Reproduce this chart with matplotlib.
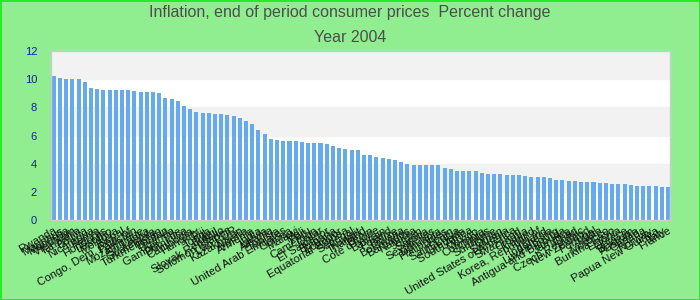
import numpy as np
import matplotlib.pyplot as plt

plt.rcParams['font.family'] = ['Liberation Sans', 'DejaVu Sans']

countries = [
    "Rwanda", "Mauritius", "Mongolia", "Viet Nam", "Tanzania", "Bolivia", "Nicaragua",
    "Kenya", "Honduras", "Lesotho", "Moldova", "Nepal", "Congo, Dem. Rep. of", "Pakistan",
    "Mozambique", "Sri Lanka", "Guatemala", "Turkmenistan", "Bhutan", "Uganda",
    "Gambia, The", "Dominica", "Cambodia", "Hungary", "Fiji", "Tonga", "Brazil",
    "Slovak Republic", "Solomon Islands", "Lao PDR", "Kazakhstan", "Algeria", "Armenia",
    "India", "Latvia", "Albania", "Tunisia", "United Arab Emirates", "Guinea", "Malawi",
    "Mali", "Peru", "Cameroon", "Qatar", "El Salvador", "Bulgaria", "Ecuador",
    "Equatorial Guinea", "Senegal", "Kuwait", "Thailand", "Benin", "Cote d'Ivoire",
    "Bahrain", "Poland", "Belize", "Botswana", "Barbados", "Namibia", "Jordan", "Samoa",
    "Seychelles", "Lithuania", "Philippines", "Spain", "Saint Lucia", "Grenada",
    "South Africa", "Mexico", "Colombia", "Cyprus", "Suriname", "Oman", "Slovenia",
    "United States of America", "Swaziland", "Croatia", "Iceland", "Korea, Republic of",
    "Ireland", "Indonesia", "Luxembourg", "Antigua and Barbuda", "Jamaica", "Chad",
    "Czech Republic", "New Zealand", "Portugal", "Malta", "Morocco", "Burkina Faso",
    "Estonia", "Greece", "Belgium", "Australia", "Canada", "Norway",
    "Papua New Guinea", "Italy", "France",
]

inflation = [
    10.24, 10.09, 10.0, 10.0, 10.0, 9.79, 9.36, 9.29, 9.22, 9.22,
    9.22, 9.22, 9.22, 9.15, 9.08, 9.08, 9.08, 9.01, 8.65, 8.58,
    8.44, 8.09, 7.87, 7.66, 7.59, 7.59, 7.52, 7.52, 7.45, 7.38,
    7.23, 7.02, 6.81, 6.38, 6.10, 5.74, 5.67, 5.60, 5.60, 5.60,
    5.53, 5.46, 5.46, 5.46, 5.39, 5.25, 5.11, 5.04, 4.96, 4.96,
    4.61, 4.61, 4.47, 4.40, 4.33, 4.26, 4.11, 3.97, 3.90, 3.90,
    3.90, 3.90, 3.90, 3.69, 3.62, 3.48, 3.48, 3.48, 3.48, 3.33,
    3.26, 3.26, 3.26, 3.19, 3.19, 3.19, 3.12, 3.05, 3.05, 3.05,
    2.98, 2.84, 2.84, 2.77, 2.77, 2.70, 2.70, 2.70, 2.62, 2.62,
    2.55, 2.55, 2.55, 2.48, 2.41, 2.41, 2.41, 2.41, 2.34, 2.34,
]

fig = plt.figure(figsize=(7, 3), dpi=100)
fig.patch.set_facecolor('#90ee90')
fig.patch.set_edgecolor('#22ee22')
fig.patch.set_linewidth(2)

ax = fig.add_axes([51 / 700, 80 / 300, 619 / 700, 169 / 300])
ax.set_facecolor('white')

# alternating horizontal bands
for lo in range(2, 12, 4):
    ax.axhspan(lo, lo + 2, color='#f2f2f2', zorder=0)

x = np.arange(len(inflation))
ax.bar(x, inflation, width=0.65, color='#66aaee', zorder=2)

ax.set_xlim(-0.44, 99.33)
ax.set_ylim(0, 12)
ax.set_yticks(range(0, 13, 2))
ax.tick_params(axis='y', length=0, pad=10, labelsize=8, labelcolor='#1c1c9c')
ax.set_xticks(x)
ax.set_xticklabels(countries, rotation=30, ha='right', rotation_mode='anchor',
                   fontsize=8.2, color='#111111')
ax.tick_params(axis='x', length=0, pad=4)
for s in ax.spines.values():
    s.set_color('#cccccc')
    s.set_linewidth(1)

fig.text(0.5, 1 - 13 / 300, "Inflation, end of period consumer prices  Percent change",
         ha='center', va='center', fontsize=11.5, color='#4d4d4d')
fig.text(0.5, 1 - 37 / 300, "Year 2004", ha='center', va='center',
         fontsize=11.5, color='#4d4d4d')

fig.savefig('out.png', dpi=100, facecolor=fig.get_facecolor(),
            edgecolor=fig.get_edgecolor())
